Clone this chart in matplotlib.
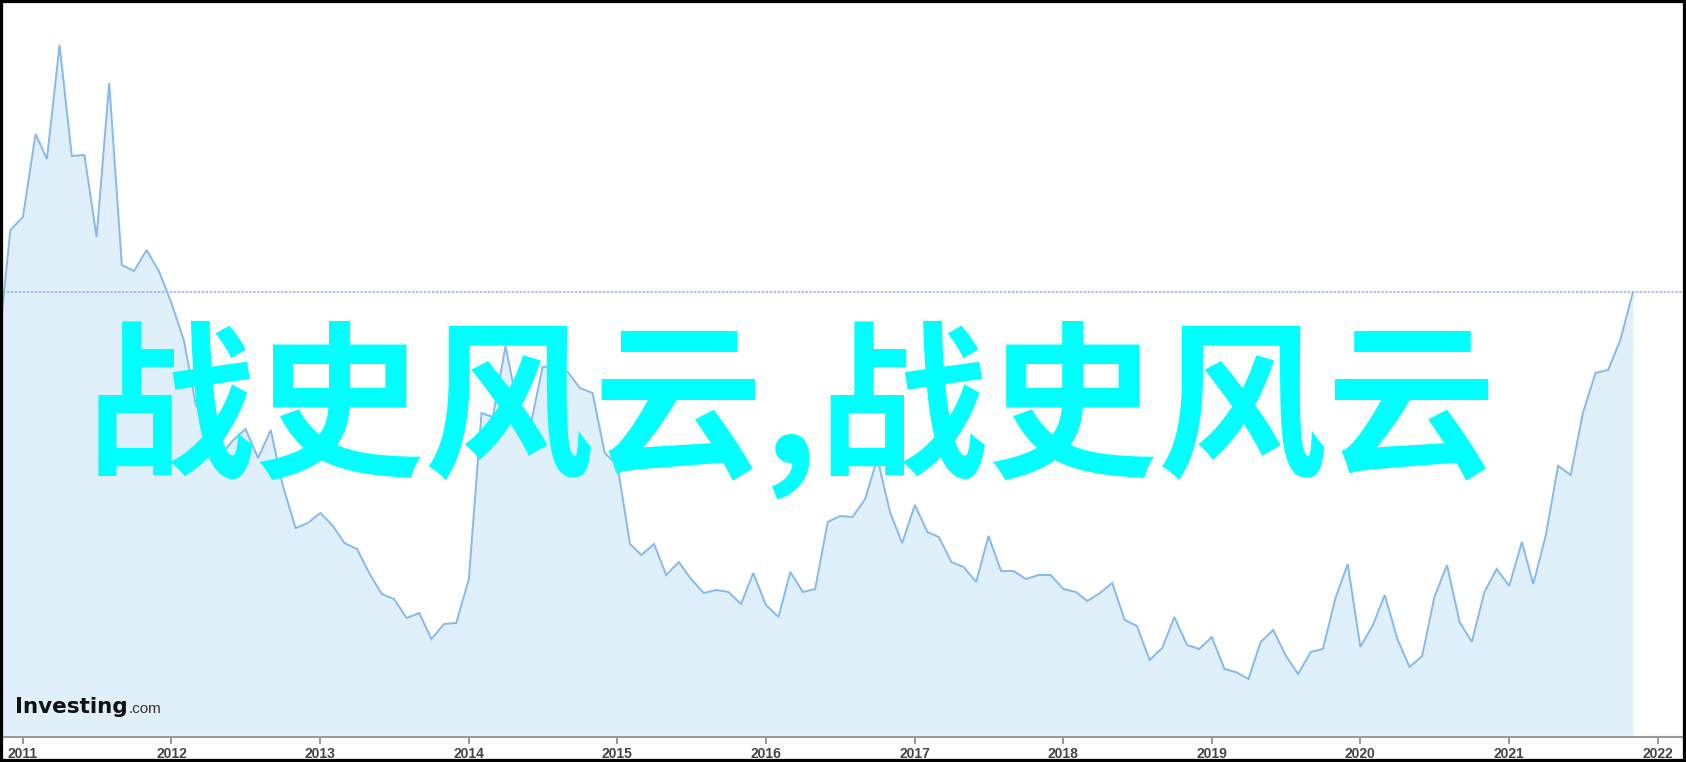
import matplotlib
matplotlib.use("Agg")
import matplotlib.pyplot as plt
from matplotlib.patches import Rectangle
from matplotlib.transforms import offset_copy
import pandas as pd

# ---- data (monthly, Nov 2010 .. Nov 2021), arbitrary index units ----
start_month = "2010-11-01"
values = [
    385, 507, 520, 603, 578, 692, 581, 582, 500, 654, 472, 466, 487, 466,
    434, 396, 332, 312, 282, 297, 308, 279, 307, 251, 209, 214,
    224, 211, 194, 188, 164, 143, 138, 119, 124, 98, 113, 114,
    158, 324, 320, 391, 330, 310, 370, 371, 365, 349, 344, 284,
    272, 193, 182, 193, 162, 175, 158, 144, 147, 145, 133, 164,
    132, 120, 165, 145, 148, 215, 221, 220, 238, 279, 225, 194,
    232, 205, 200, 175, 170, 155, 201, 166, 166, 158, 162, 162,
    148, 145, 136, 144, 154, 117, 111, 77, 89, 120, 92, 88,
    100, 68, 65, 58, 95, 107, 82, 63, 85, 88, 139, 173,
    90, 112, 142, 98, 70, 81, 140, 172, 115, 95, 145, 168,
    151, 195, 153, 202, 271, 262, 324, 364, 367, 397, 445,
]
dates = pd.date_range(start_month, periods=len(values), freq="MS")
year_labels = ["2011", "2012", "2013", "2014", "2015", "2016",
               "2017", "2018", "2019", "2020", "2021", "2022"]
title_text = "战史风云,战史风云"

# ---- figure ----
W, H = 1686, 762
fig = plt.figure(figsize=(W / 100, H / 100), dpi=100)
fig.patch.set_facecolor("white")

ax = fig.add_axes([3 / W, (H - 737) / H, 1680 / W, 734 / H])
ax.set_facecolor("white")

fill_c = "#e0f0fa"
line_c = "#86b9ec"
ax.fill_between(dates, values, 2, color=fill_c, lw=0, zorder=1)
ax.plot(dates, values, color=line_c, lw=1.4, zorder=3, solid_joinstyle="miter")
ax.axhline(values[-1], color="#93aaf0", lw=1.1, ls=(0, (1.6, 1.0)), zorder=2)

ax.set_xlim(pd.Timestamp("2011-01-01") - pd.Timedelta(days=49),
            pd.Timestamp("2022-03-04"))
ax.set_ylim(0, 734)

ticks = [pd.Timestamp(f"{y}-01-01") for y in year_labels]
ax.set_xticks(ticks)
ax.set_xticklabels(year_labels, fontsize=10, fontweight="bold",
                   color="#444444", family="Liberation Sans")
ax.tick_params(axis="x", direction="out", length=5, width=1.2,
               color="#888888", pad=2.5)
ax.set_yticks([])
for s in ["top", "right", "left"]:
    ax.spines[s].set_visible(False)
ax.spines["bottom"].set_color("#999999")
ax.spines["bottom"].set_linewidth(1.5)
ax.spines["bottom"].set_zorder(4)

# ---- Investing.com logo ----
t1 = fig.text(15 / W, 1 - 713 / H, "Investing", fontsize=15.5, fontweight="bold",
              family="DejaVu Sans", color="#111111", va="baseline", ha="left",
              zorder=5)
fig.canvas.draw()
bb = t1.get_window_extent(renderer=fig.canvas.get_renderer())
fig.text(bb.x1 / W + 1 / W, 1 - 713 / H, ".com", fontsize=11,
         family="Liberation Sans", color="#333333", va="baseline", ha="left",
         zorder=5)

# ---- overlay title ----
fig.text(791 / W, 1 - 410 / H, title_text, fontsize=122, fontweight="bold",
         family=["Noto Sans CJK SC", "DejaVu Sans"], color="#00ffff",
         ha="center", va="center", zorder=10)

# ---- black frame ----
fig.patches.append(Rectangle((0, 0), 1, 1, transform=fig.transFigure,
                             fill=False, edgecolor="black", lw=4.5,
                             zorder=20))

fig.savefig("out.png", dpi=100, facecolor="white")
